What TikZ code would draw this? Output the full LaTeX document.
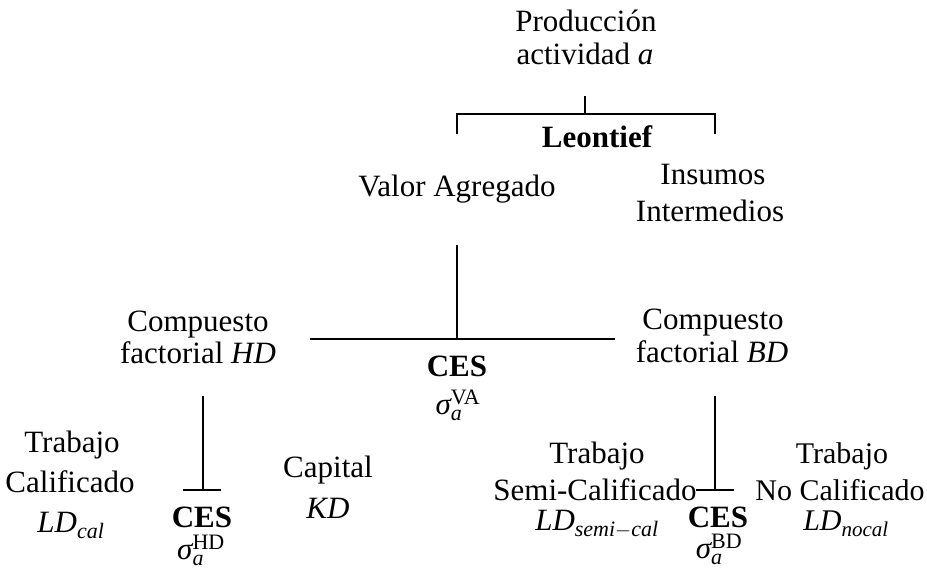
\documentclass[tikz,border=0pt]{standalone}
\usepackage{amsmath}
\usepackage{fontspec}
\setmainfont{Liberation Serif}
\DeclareMathSizes{31}{31}{22}{17}
\DeclareMathSizes{30}{30}{21}{16}
\newcommand{\mv}[1]{\textit{#1}}
\begin{document}
\begin{tikzpicture}[x=1pt,y=-1pt,
  t/.style={inner sep=0pt,anchor=base,font=\fontsize{31}{36}\selectfont},
  tn/.style={inner sep=0pt,anchor=base,font=\fontsize{30}{36}\selectfont},
  b/.style={inner sep=0pt,anchor=base,font=\fontsize{31}{36}\selectfont\bfseries},
  tree/.style={line width=1.4pt,black}]
\useasboundingbox (0,0) rectangle (927,569);
% top level
\node[t] (prod1) at (586,32) {Producción};
\node[t] (prod2) at (585,65) {actividad $\mv{a}$};
\coordinate (p1) at (585,96);
\coordinate (p2) at (585,114);
\coordinate (bl) at (457,114);
\coordinate (br) at (715,114);
\coordinate (blt) at (457,134);
\coordinate (brt) at (715,134);
\draw[tree] (p1) -- (p2);
\draw[tree] (blt) -- (bl) -- (br) -- (brt);
\node[b] (leon) at (597,148) {Leontief};
\node[t] (va) at (457,197) {Valor Agregado};
\node[t] (ii1) at (713,185) {Insumos};
\node[t] (ii2) at (710,222) {Intermedios};
% VA level
\coordinate (v1) at (457,245);
\coordinate (v2) at (457,339);
\coordinate (hl) at (310,339);
\coordinate (hr) at (615,339);
\draw[tree] (v1) -- (v2);
\draw[tree] (hl) -- (hr);
\node[t] (hd1) at (198,332) {Compuesto};
\node[t] (hd2) at (198,364) {factorial $\mv{HD}$};
\node[t] (bd1) at (713,330) {Compuesto};
\node[t] (bd2) at (712,363) {factorial $\mv{BD}$};
\node[b] (cesva) at (457,377) {CES};
\node[t] (sva) at (458,414) {$\mv{σ}_{\mv{a}}^{\textrm{VA}}$};
% HD level
\coordinate (l1) at (203,396);
\coordinate (l2) at (203,490);
\coordinate (l3) at (183,490);
\coordinate (l4) at (221,490);
\draw[tree] (l1) -- (l2);
\draw[tree] (l3) -- (l4);
\node[t] (tc1) at (72,452) {Trabajo};
\node[t] (tc2) at (70,492) {Calificado};
\node[t] (tc3) at (71,532) {$\mv{LD}_{\mv{cal}}$};
\node[b] (ceshd) at (202,527) {CES};
\node[t] (shd) at (201,559) {$\mv{σ}_{\mv{a}}^{\textrm{HD}}$};
\node[t] (kd1) at (328,477) {Capital};
\node[t] (kd2) at (328,518) {$\mv{KD}$};
% BD level
\coordinate (r1) at (715,396);
\coordinate (r2) at (715,490);
\coordinate (r3) at (696,490);
\coordinate (r4) at (734,490);
\draw[tree] (r1) -- (r2);
\draw[tree] (r3) -- (r4);
\node[t] (tsc1) at (597,464) {Trabajo};
\node[t] (tsc2) at (595,500) {Semi-Calificado};
\node[t] (tsc3) at (597,530) {$\mv{LD}_{\mv{semi}-\mv{cal}}$};
\node[b] (cesbd) at (718,527) {CES};
\node[t] (sbd) at (719,558) {$\mv{σ}_{\mv{a}}^{\textrm{BD}}$};
\node[tn] (tnc1) at (842,464) {Trabajo};
\node[tn] (tnc2) at (840,500) {No Calificado};
\node[tn] (tnc3) at (846,530) {$\mv{LD}_{\mv{nocal}}$};
\end{tikzpicture}
\end{document}
